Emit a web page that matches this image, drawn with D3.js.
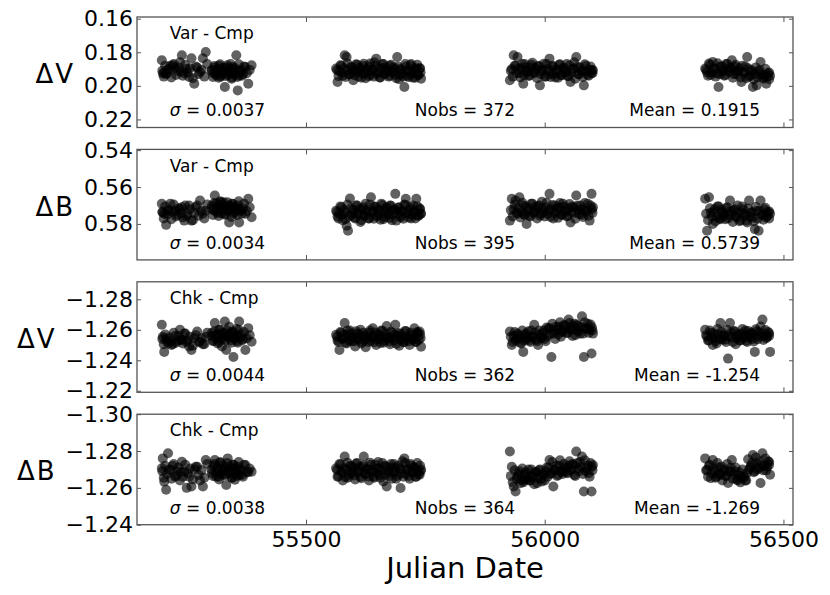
<!DOCTYPE html>
<html><head><meta charset="utf-8">
<script src="https://cdn.jsdelivr.net/npm/d3@7"></script>
<style>body{margin:0;background:#fff} text{font-family:"DejaVu Sans",sans-serif}</style>
</head><body><svg id="c" width="830" height="595"></svg>
<script>
// Julian dates of the observations (shared by all panels)
const jd = [
 55198,55200,55203,55207,55211,55216,55221,55226,55231,55236,
 55240,55245,55250,55255,55260,55266,55272,55278,55284,55290,
 55303,55306,55309,55312,55315,55318,55321,55324,55327,55330,
 55333,55336,55339,55342,55345,55348,55351,55354,55357,55360,
 55364,55368,55373,55379,55386,
 55563,55566,55570,55574,55577,55581,55585,55588,55592,55596,
 55599,55603,55607,55610,55614,55618,55621,55625,55629,55632,
 55636,55640,55643,55647,55651,55654,55658,55662,55665,55669,
 55673,55676,55680,55684,55687,55691,55695,55698,55702,55706,
 55709,55713,55717,55720,55724,55727,55731,55734,55738,55741,
 55927,55931,55935,55939,55943,55947,55951,55955,55958,55962,
 55966,55970,55974,55978,55982,55986,55990,55994,55998,56002,
 56006,56010,56014,56018,56022,56026,56030,56034,56038,56042,
 56046,56050,56054,56058,56062,56066,56070,56074,56078,56082,
 56086,56090,56094,56098,56101,
 56336,56340,56344,56348,56352,56356,56360,56364,56368,56372,
 56376,56380,56384,56388,56392,56396,56400,56404,56408,56412,
 56416,56420,56424,56428,56432,56436,56440,56444,56448,56452,
 56456,56460,56464,56468,56472,
 // second half of the nights
 55199,55202,55205,55209,55213,55218,55223,55228,55233,55238,
 55242,55247,55252,55257,55263,55269,55275,55281,55287,55293,
 55302,55305,55308,55311,55314,55317,55320,55323,55326,55329,
 55332,55335,55338,55341,55344,55347,55350,55353,55356,55359,
 55362,55366,55370,55376,55382,
 55565,55568,55572,55576,55579,55583,55587,55590,55594,55598,
 55601,55605,55609,55612,55616,55620,55623,55627,55631,55634,
 55638,55642,55645,55649,55653,55656,55660,55664,55667,55671,
 55675,55678,55682,55686,55689,55693,55697,55700,55704,55708,
 55711,55715,55719,55722,55726,55729,55733,55736,55739,55740,
 55929,55933,55937,55941,55945,55949,55953,55957,55960,55964,
 55968,55972,55976,55980,55984,55988,55992,55996,56000,56004,
 56008,56012,56016,56020,56024,56028,56032,56036,56040,56044,
 56048,56052,56056,56060,56064,56068,56072,56076,56080,56084,
 56088,56092,56096,56100,56099,
 56338,56342,56346,56350,56354,56358,56362,56366,56370,56374,
 56378,56382,56386,56390,56394,56398,56402,56406,56410,56414,
 56418,56422,56426,56430,56434,56438,56442,56446,56450,56454,
 56458,56462,56466,56470,56470
];
const varV = [
 0.1848,0.1926,0.1922,0.1930,0.1905,0.1880,0.1878,0.1895,0.1912,0.1860,
 0.1818,0.1925,0.1900,0.1947,0.1836,0.1987,0.1890,0.1918,0.1836,0.1798,
 0.1905,0.1925,0.1890,0.1938,0.1912,0.1880,0.1945,0.1900,0.1922,0.2007,
 0.1890,0.1935,0.1912,0.1870,0.1950,0.1920,0.1895,0.1818,0.2027,0.1940,
 0.1905,0.1930,0.1888,0.1987,0.1878,
 0.1897,0.1977,0.1915,0.1880,0.1940,0.1818,0.1828,0.1905,0.1930,0.1890,
 0.1967,0.1912,0.1875,0.1945,0.1900,0.1925,0.1868,0.1955,0.1910,0.1885,
 0.1935,0.1902,0.1860,0.1838,0.1920,0.1950,0.1895,0.1870,0.1928,0.1905,
 0.1945,0.1880,0.1915,0.1890,0.1935,0.1828,0.1960,0.1900,0.1925,0.2007,
 0.1885,0.1940,0.1910,0.1870,0.1952,0.1918,0.1895,0.1935,0.1897,0.1957,
 0.1967,0.1900,0.1818,0.1880,0.1828,0.1925,0.1895,0.1987,0.1870,0.1915,
 0.1940,0.1890,0.1862,0.1925,0.1905,0.1880,0.1997,0.1912,0.1868,0.1945,
 0.1898,0.1838,0.1930,0.1885,0.1950,0.1908,0.1875,0.1935,0.1895,0.1920,
 0.1870,0.1942,0.1977,0.1900,0.1860,0.1828,0.1930,0.1890,0.1915,0.1997,
 0.1880,0.1935,0.1905,0.1925,0.1907,
 0.1897,0.1920,0.1867,0.1935,0.1858,0.1900,0.1925,0.2007,0.1885,0.1912,
 0.1940,0.1870,0.1905,0.1890,0.1848,0.1930,0.1875,0.1915,0.1895,0.1977,
 0.1920,0.1885,0.1828,0.1945,0.1905,0.2007,0.1930,0.1997,0.1915,0.1858,
 0.1950,0.1935,0.1987,0.1925,0.1940,
 0.1910,0.1945,0.1880,0.1925,0.1900,0.1950,0.1870,0.1935,0.1890,0.1915,
 0.1940,0.1875,0.1920,0.1895,0.1955,0.1885,0.1930,0.1905,0.1945,0.1870,
 0.1912,0.1947,0.1882,0.1927,0.1902,0.1952,0.1872,0.1937,0.1892,0.1917,
 0.1942,0.1877,0.1922,0.1897,0.1957,0.1887,0.1932,0.1907,0.1947,0.1872,
 0.1915,0.1940,0.1885,0.1925,0.1905,
 0.1907,0.1942,0.1877,0.1922,0.1897,0.1947,0.1867,0.1932,0.1887,0.1912,
 0.1937,0.1872,0.1917,0.1892,0.1952,0.1882,0.1927,0.1902,0.1942,0.1867,
 0.1910,0.1945,0.1880,0.1925,0.1895,0.1950,0.1870,0.1930,0.1890,0.1915,
 0.1940,0.1875,0.1920,0.1900,0.1955,0.1885,0.1935,0.1905,0.1945,0.1870,
 0.1912,0.1948,0.1878,0.1928,0.1898,0.1952,0.1875,0.1935,0.1895,0.1920,
 0.1910,0.1945,0.1880,0.1925,0.1900,0.1950,0.1870,0.1935,0.1890,0.1915,
 0.1940,0.1875,0.1920,0.1895,0.1955,0.1885,0.1930,0.1905,0.1945,0.1870,
 0.1912,0.1947,0.1882,0.1927,0.1902,0.1952,0.1872,0.1937,0.1892,0.1917,
 0.1942,0.1877,0.1922,0.1897,0.1957,0.1887,0.1932,0.1907,0.1947,0.1872,
 0.1915,0.1940,0.1885,0.1925,0.1905,
 0.1905,0.1940,0.1875,0.1920,0.1895,0.1945,0.1865,0.1930,0.1885,0.1910,
 0.1935,0.1870,0.1918,0.1895,0.1952,0.1885,0.1930,0.1910,0.1950,0.1880,
 0.1925,0.1955,0.1895,0.1940,0.1915,0.1962,0.1890,0.1948,0.1905,0.1932,
 0.1958,0.1898,0.1945,0.1920,0.1960
];
const varB = [
 0.5691,0.5737,0.5745,0.5805,0.5728,0.5690,0.5735,0.5728,0.5750,0.5720,
 0.5710,0.5782,0.5755,0.5700,0.5782,0.5740,0.5700,0.5673,0.5744,0.5728,
 0.5700,0.5725,0.5646,0.5690,0.5740,0.5710,0.5682,0.5720,0.5682,0.5750,
 0.5705,0.5730,0.5792,0.5715,0.5690,0.5745,0.5710,0.5725,0.5700,0.5792,
 0.5730,0.5715,0.5745,0.5664,0.5764,
 0.5728,0.5760,0.5745,0.5710,0.5780,0.5740,0.5810,0.5837,0.5662,0.5750,
 0.5725,0.5770,0.5700,0.5745,0.5790,0.5720,0.5755,0.5690,0.5735,0.5770,
 0.5655,0.5730,0.5705,0.5760,0.5720,0.5745,0.5690,0.5775,0.5730,0.5710,
 0.5750,0.5700,0.5780,0.5725,0.5637,0.5740,0.5710,0.5765,0.5730,0.5695,
 0.5664,0.5745,0.5720,0.5770,0.5700,0.5735,0.5664,0.5755,0.5715,0.5745,
 0.5782,0.5664,0.5720,0.5673,0.5745,0.5655,0.5735,0.5700,0.5750,0.5800,
 0.5715,0.5760,0.5690,0.5740,0.5725,0.5705,0.5755,0.5680,0.5735,0.5710,
 0.5745,0.5637,0.5720,0.5770,0.5700,0.5735,0.5710,0.5750,0.5690,0.5730,
 0.5760,0.5715,0.5792,0.5705,0.5740,0.5646,0.5725,0.5700,0.5750,0.5720,
 0.5735,0.5691,0.5782,0.5637,0.5710,
 0.5664,0.5837,0.5655,0.5740,0.5800,0.5720,0.5760,0.5705,0.5775,0.5735,
 0.5750,0.5715,0.5770,0.5673,0.5745,0.5725,0.5760,0.5700,0.5785,0.5740,
 0.5720,0.5755,0.5792,0.5673,0.5740,0.5765,0.5828,0.5730,0.5837,0.5673,
 0.5750,0.5720,0.5765,0.5737,0.5745,
 0.5735,0.5770,0.5705,0.5750,0.5725,0.5775,0.5695,0.5760,0.5715,0.5740,
 0.5765,0.5700,0.5745,0.5720,0.5780,0.5710,0.5755,0.5730,0.5770,0.5695,
 0.5717,0.5752,0.5687,0.5732,0.5707,0.5757,0.5677,0.5742,0.5697,0.5722,
 0.5747,0.5682,0.5727,0.5702,0.5762,0.5692,0.5737,0.5712,0.5752,0.5677,
 0.5720,0.5745,0.5690,0.5730,0.5710,
 0.5735,0.5770,0.5705,0.5750,0.5725,0.5775,0.5695,0.5760,0.5715,0.5740,
 0.5765,0.5700,0.5745,0.5720,0.5780,0.5710,0.5755,0.5730,0.5770,0.5695,
 0.5737,0.5772,0.5707,0.5752,0.5727,0.5777,0.5697,0.5762,0.5717,0.5742,
 0.5767,0.5702,0.5747,0.5722,0.5782,0.5712,0.5757,0.5732,0.5772,0.5697,
 0.5740,0.5765,0.5710,0.5750,0.5730,0.5770,0.5705,0.5755,0.5720,0.5745,
 0.5725,0.5760,0.5695,0.5740,0.5715,0.5765,0.5685,0.5750,0.5705,0.5730,
 0.5755,0.5690,0.5735,0.5710,0.5770,0.5700,0.5745,0.5720,0.5760,0.5685,
 0.5727,0.5762,0.5697,0.5742,0.5717,0.5767,0.5687,0.5752,0.5707,0.5732,
 0.5757,0.5692,0.5737,0.5712,0.5772,0.5702,0.5747,0.5722,0.5762,0.5687,
 0.5730,0.5755,0.5700,0.5740,0.5720,
 0.5745,0.5780,0.5715,0.5760,0.5735,0.5785,0.5705,0.5770,0.5725,0.5750,
 0.5775,0.5710,0.5755,0.5730,0.5790,0.5720,0.5765,0.5740,0.5780,0.5705,
 0.5747,0.5782,0.5717,0.5762,0.5737,0.5787,0.5707,0.5772,0.5727,0.5752,
 0.5777,0.5712,0.5757,0.5732,0.5770
];
const chkV = [
 -1.2633,-1.2555,-1.2455,-1.2540,-1.2511,-1.2525,-1.2505,-1.2560,-1.2530,-1.2600,
 -1.2533,-1.2575,-1.2520,-1.2490,-1.2467,-1.2545,-1.2589,-1.2522,-1.2505,-1.2555,
 -1.2580,-1.2530,-1.2644,-1.2565,-1.2510,-1.2600,-1.2545,-1.2490,-1.2575,-1.2655,
 -1.2467,-1.2560,-1.2620,-1.2530,-1.2585,-1.2422,-1.2550,-1.2605,-1.2515,-1.2655,
 -1.2570,-1.2540,-1.2467,-1.2611,-1.2522,
 -1.2567,-1.2530,-1.2467,-1.2580,-1.2545,-1.2644,-1.2510,-1.2565,-1.2595,-1.2525,
 -1.2550,-1.2490,-1.2575,-1.2535,-1.2600,-1.2520,-1.2560,-1.2485,-1.2545,-1.2580,
 -1.2530,-1.2610,-1.2555,-1.2500,-1.2570,-1.2540,-1.2595,-1.2515,-1.2550,-1.2625,
 -1.2545,-1.2505,-1.2580,-1.2530,-1.2633,-1.2560,-1.2495,-1.2575,-1.2540,-1.2520,
 -1.2590,-1.2550,-1.2500,-1.2565,-1.2535,-1.2610,-1.2520,-1.2580,-1.2589,-1.2489,
 -1.2589,-1.2500,-1.2560,-1.2530,-1.2575,-1.2545,-1.2510,-1.2455,-1.2565,-1.2540,
 -1.2590,-1.2520,-1.2555,-1.2633,-1.2535,-1.2500,-1.2570,-1.2545,-1.2595,-1.2525,
 -1.2560,-1.2610,-1.2422,-1.2575,-1.2540,-1.2600,-1.2620,-1.2555,-1.2590,-1.2630,
 -1.2580,-1.2667,-1.2610,-1.2560,-1.2640,-1.2595,-1.2625,-1.2575,-1.2689,-1.2422,
 -1.2610,-1.2640,-1.2600,-1.2444,-1.2575,
 -1.2600,-1.2555,-1.2530,-1.2580,-1.2500,-1.2545,-1.2510,-1.2570,-1.2644,-1.2535,
 -1.2565,-1.2520,-1.2411,-1.2644,-1.2550,-1.2590,-1.2505,-1.2560,-1.2530,-1.2575,
 -1.2545,-1.2595,-1.2520,-1.2565,-1.2580,-1.2540,-1.2455,-1.2590,-1.2560,-1.2622,
 -1.2667,-1.2570,-1.2545,-1.2585,-1.2455,
 -1.2540,-1.2505,-1.2570,-1.2525,-1.2550,-1.2500,-1.2580,-1.2515,-1.2560,-1.2535,
 -1.2510,-1.2575,-1.2530,-1.2555,-1.2495,-1.2565,-1.2520,-1.2545,-1.2505,-1.2580,
 -1.2560,-1.2525,-1.2590,-1.2545,-1.2570,-1.2520,-1.2600,-1.2535,-1.2580,-1.2555,
 -1.2530,-1.2595,-1.2550,-1.2575,-1.2515,-1.2585,-1.2540,-1.2565,-1.2525,-1.2600,
 -1.2555,-1.2530,-1.2585,-1.2545,-1.2565,
 -1.2555,-1.2520,-1.2585,-1.2540,-1.2565,-1.2515,-1.2595,-1.2530,-1.2575,-1.2550,
 -1.2525,-1.2590,-1.2545,-1.2570,-1.2510,-1.2580,-1.2535,-1.2560,-1.2520,-1.2595,
 -1.2553,-1.2518,-1.2583,-1.2538,-1.2563,-1.2513,-1.2593,-1.2528,-1.2573,-1.2548,
 -1.2523,-1.2588,-1.2543,-1.2568,-1.2508,-1.2578,-1.2533,-1.2558,-1.2518,-1.2593,
 -1.2550,-1.2525,-1.2580,-1.2540,-1.2560,-1.2520,-1.2585,-1.2535,-1.2570,-1.2545,
 -1.2555,-1.2520,-1.2585,-1.2540,-1.2565,-1.2515,-1.2595,-1.2530,-1.2575,-1.2550,
 -1.2530,-1.2595,-1.2555,-1.2580,-1.2525,-1.2595,-1.2550,-1.2575,-1.2540,-1.2615,
 -1.2610,-1.2575,-1.2640,-1.2595,-1.2620,-1.2570,-1.2650,-1.2585,-1.2630,-1.2605,
 -1.2580,-1.2645,-1.2600,-1.2625,-1.2565,-1.2635,-1.2590,-1.2615,-1.2575,-1.2650,
 -1.2605,-1.2580,-1.2635,-1.2595,-1.2615,
 -1.2565,-1.2530,-1.2595,-1.2550,-1.2575,-1.2525,-1.2605,-1.2540,-1.2585,-1.2560,
 -1.2535,-1.2600,-1.2555,-1.2580,-1.2520,-1.2590,-1.2545,-1.2570,-1.2530,-1.2605,
 -1.2563,-1.2528,-1.2593,-1.2548,-1.2573,-1.2523,-1.2603,-1.2538,-1.2583,-1.2558,
 -1.2533,-1.2598,-1.2553,-1.2578,-1.2560
];
const chkB = [
 -1.2707,-1.2760,-1.2634,-1.2590,-1.2788,-1.2697,-1.2720,-1.2660,-1.2690,-1.2640,
 -1.2742,-1.2688,-1.2600,-1.2661,-1.2607,-1.2700,-1.2715,-1.2640,-1.2607,-1.2751,
 -1.2680,-1.2720,-1.2751,-1.2660,-1.2700,-1.2645,-1.2735,-1.2690,-1.2670,-1.2710,
 -1.2616,-1.2760,-1.2680,-1.2705,-1.2655,-1.2725,-1.2644,-1.2690,-1.2715,-1.2670,
 -1.2700,-1.2660,-1.2724,-1.2685,-1.2688,
 -1.2707,-1.2660,-1.2730,-1.2690,-1.2640,-1.2770,-1.2700,-1.2655,-1.2720,-1.2680,
 -1.2710,-1.2645,-1.2735,-1.2690,-1.2660,-1.2715,-1.2770,-1.2675,-1.2700,-1.2640,
 -1.2725,-1.2685,-1.2655,-1.2705,-1.2740,-1.2670,-1.2695,-1.2635,-1.2720,-1.2607,
 -1.2680,-1.2710,-1.2650,-1.2730,-1.2690,-1.2665,-1.2705,-1.2599,-1.2745,-1.2760,
 -1.2675,-1.2700,-1.2650,-1.2720,-1.2685,-1.2710,-1.2660,-1.2695,-1.2671,-1.2700,
 -1.2797,-1.2715,-1.2607,-1.2580,-1.2660,-1.2690,-1.2644,-1.2630,-1.2675,-1.2650,
 -1.2700,-1.2640,-1.2665,-1.2620,-1.2685,-1.2655,-1.2700,-1.2635,-1.2670,-1.2690,
 -1.2660,-1.2751,-1.2680,-1.2607,-1.2700,-1.2665,-1.2720,-1.2690,-1.2675,-1.2710,
 -1.2685,-1.2720,-1.2695,-1.2730,-1.2670,-1.2797,-1.2705,-1.2740,-1.2770,-1.2580,
 -1.2690,-1.2720,-1.2660,-1.2580,-1.2724,
 -1.2760,-1.2697,-1.2720,-1.2653,-1.2751,-1.2690,-1.2660,-1.2710,-1.2675,-1.2640,
 -1.2700,-1.2665,-1.2626,-1.2690,-1.2751,-1.2670,-1.2710,-1.2640,-1.2685,-1.2655,
 -1.2662,-1.2640,-1.2680,-1.2700,-1.2720,-1.2778,-1.2690,-1.2735,-1.2710,-1.2626,
 -1.2788,-1.2720,-1.2695,-1.2745,-1.2671,
 -1.2690,-1.2655,-1.2720,-1.2675,-1.2700,-1.2650,-1.2730,-1.2665,-1.2710,-1.2685,
 -1.2660,-1.2725,-1.2680,-1.2705,-1.2645,-1.2715,-1.2670,-1.2695,-1.2655,-1.2730,
 -1.2700,-1.2665,-1.2730,-1.2685,-1.2710,-1.2660,-1.2740,-1.2675,-1.2720,-1.2695,
 -1.2670,-1.2735,-1.2690,-1.2715,-1.2655,-1.2725,-1.2680,-1.2705,-1.2665,-1.2740,
 -1.2695,-1.2670,-1.2725,-1.2685,-1.2705,
 -1.2697,-1.2662,-1.2727,-1.2682,-1.2707,-1.2657,-1.2737,-1.2672,-1.2717,-1.2692,
 -1.2667,-1.2732,-1.2687,-1.2712,-1.2652,-1.2722,-1.2677,-1.2702,-1.2662,-1.2737,
 -1.2695,-1.2660,-1.2725,-1.2680,-1.2705,-1.2655,-1.2735,-1.2670,-1.2715,-1.2690,
 -1.2665,-1.2730,-1.2685,-1.2710,-1.2650,-1.2720,-1.2675,-1.2700,-1.2660,-1.2735,
 -1.2700,-1.2665,-1.2730,-1.2685,-1.2710,-1.2660,-1.2735,-1.2675,-1.2720,-1.2690,
 -1.2665,-1.2630,-1.2695,-1.2650,-1.2675,-1.2625,-1.2705,-1.2640,-1.2685,-1.2660,
 -1.2640,-1.2700,-1.2660,-1.2685,-1.2625,-1.2695,-1.2650,-1.2675,-1.2640,-1.2710,
 -1.2710,-1.2675,-1.2740,-1.2695,-1.2720,-1.2670,-1.2750,-1.2685,-1.2730,-1.2705,
 -1.2680,-1.2745,-1.2700,-1.2725,-1.2665,-1.2735,-1.2690,-1.2715,-1.2675,-1.2750,
 -1.2705,-1.2680,-1.2735,-1.2695,-1.2715,
 -1.2695,-1.2660,-1.2725,-1.2680,-1.2705,-1.2655,-1.2735,-1.2670,-1.2715,-1.2690,
 -1.2665,-1.2730,-1.2685,-1.2710,-1.2650,-1.2690,-1.2645,-1.2670,-1.2630,-1.2700,
 -1.2660,-1.2640,-1.2755,-1.2710,-1.2735,-1.2685,-1.2765,-1.2700,-1.2745,-1.2720,
 -1.2695,-1.2760,-1.2715,-1.2740,-1.2725
];

const yLabels   = ["\u0394V", "\u0394B", "\u0394V", "\u0394B"];
const pairNames = ["Var - Cmp", "Var - Cmp", "Chk - Cmp", "Chk - Cmp"];
const sigmas    = ["0.0037", "0.0034", "0.0044", "0.0038"];
const nobs      = ["372", "395", "362", "364"];
const means     = ["0.1915", "0.5739", "-1.254", "-1.269"];
const yTicks = [
  [0.16, 0.18, 0.20, 0.22],
  [0.54, 0.56, 0.58],
  [-1.28, -1.26, -1.24, -1.22],
  [-1.30, -1.28, -1.26, -1.24]
];
const xTicks = [55500, 56000, 56500];
const xTitle = "Julian Date";

// ---- drawing ----
const series = [varV, varB, chkV, chkB];
const yDomains = [[0.1590, 0.2248], [0.5396, 0.5995], [-1.2915, -1.2190], [-1.3000, -1.2400]];
const svg = d3.select("#c");
svg.append("rect").attr("width", 830).attr("height", 595).attr("fill", "#fff");
const L = 137, R = 793, T0 = 17, STEP = 132.4, PH = 110.5;
const frameColor = "#555";
const x = d3.scaleLinear().domain([55146, 56520]).range([L, R]);
const fmt = d3.format(".2f");

series.forEach((vals, i) => {
  const top = T0 + i * STEP, bot = top + PH;
  const y = d3.scaleLinear().domain(yDomains[i]).range([top, bot]);
  const g = svg.append("g");
  const n = Math.min(jd.length, vals.length);
  const pts = d3.range(n).map(k => [jd[k], vals[k]]);
  g.append("g").selectAll("circle").data(pts).join("circle")
    .attr("cx", d => x(d[0])).attr("cy", d => y(d[1])).attr("r", 5)
    .attr("fill", "#000").attr("fill-opacity", 0.62);

  const style = sel => {
    sel.select(".domain").remove();
    sel.selectAll(".tick line").attr("stroke", frameColor).attr("stroke-width", 1);
    sel.selectAll("text").attr("fill", "#000").attr("font-size", 22).attr("font-family", "DejaVu Sans");
  };
  const ly = g.append("g").attr("transform", `translate(${L},0)`)
    .call(d3.axisLeft(y).tickValues(yTicks[i]).tickSize(-4).tickPadding(4).tickFormat(fmt)).call(style);
  g.append("g").attr("transform", `translate(${R},0)`)
    .call(d3.axisRight(y).tickValues(yTicks[i]).tickSize(-4).tickFormat("")).call(style);
  g.append("g").attr("transform", `translate(0,${top})`)
    .call(d3.axisTop(x).tickValues(xTicks).tickSize(-5).tickFormat("")).call(style);
  g.append("g").attr("transform", `translate(0,${bot})`)
    .call(d3.axisBottom(x).tickValues(xTicks).tickSize(-5).tickPadding(7)
      .tickFormat(i === series.length - 1 ? d3.format("d") : "")).call(style);

  g.append("rect").attr("x", L).attr("y", top).attr("width", R - L).attr("height", PH)
    .attr("fill", "none").attr("stroke", frameColor).attr("stroke-width", 1.3);

  // y label
  let minX = Infinity;
  ly.selectAll("text").each(function () { const b = this.getBBox(); minX = Math.min(minX, L + b.x); });
  const yl = g.append("text").attr("x", minX - 11).attr("y", (top + bot) / 2 + 2)
    .attr("text-anchor", "end").attr("dominant-baseline", "central").attr("font-size", 26);
  yl.append("tspan").text(yLabels[i].charAt(0));
  yl.append("tspan").attr("dx", 2).text(yLabels[i].slice(1));

  const w = R - L;
  g.append("text").attr("x", L + 0.05 * w).attr("y", bot - 0.8 * PH).attr("font-size", 17).text(pairNames[i]);
  const st = g.append("text").attr("x", L + 0.05 * w).attr("y", bot - 0.1 * PH).attr("font-size", 17);
  st.append("tspan").attr("font-style", "italic").text("\u03c3");
  st.append("tspan").text(" = " + sigmas[i]);
  g.append("text").attr("x", L + 0.5 * w).attr("y", bot - 0.1 * PH).attr("font-size", 17)
    .attr("text-anchor", "middle").text("Nobs = " + nobs[i]);
  g.append("text").attr("x", L + 0.95 * w).attr("y", bot - 0.1 * PH).attr("font-size", 17)
    .attr("text-anchor", "end").text("Mean = " + means[i]);
});

svg.append("text").attr("x", (L + R) / 2).attr("y", 578).attr("text-anchor", "middle")
  .attr("font-size", 29).text(xTitle);
</script></body></html>
